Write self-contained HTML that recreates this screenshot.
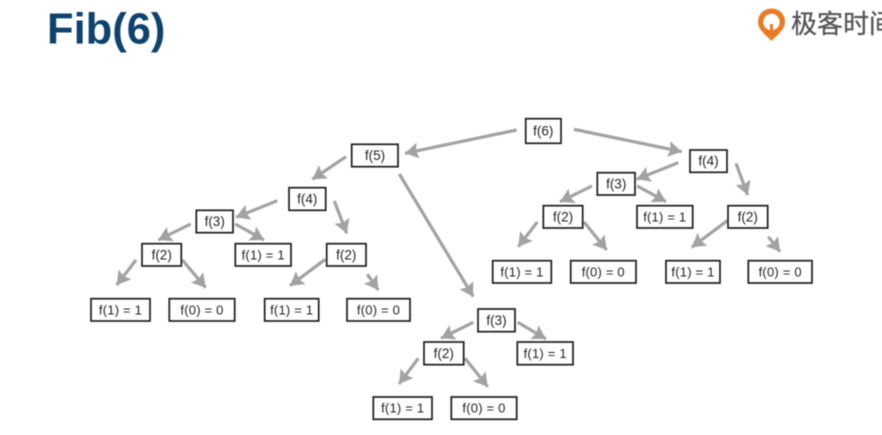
<!DOCTYPE html>
<html lang="zh">
<head>
<meta charset="utf-8">
<title>Fib(6)</title>
<style>
html,body{margin:0;padding:0;background:#fff;width:882px;height:435px;overflow:hidden}
svg{display:block}
.t{font-family:"Liberation Sans",sans-serif;font-size:13.5px;fill:#222;text-anchor:middle}
.q{font-family:"Liberation Sans",sans-serif;font-size:13px;fill:#222;text-anchor:middle;letter-spacing:.2px}
.b{fill:#fff;stroke:#1c1c1c;stroke-width:1.7}
.a{stroke:#a2a2a2;stroke-width:3.2;fill:none;marker-end:url(#h)}
.blur{filter:blur(0.45px)}
</style>
</head>
<body>
<svg width="882" height="435" viewBox="0 0 882 435" xmlns="http://www.w3.org/2000/svg">
<defs>
<marker id="h" markerUnits="strokeWidth" markerWidth="4.2" markerHeight="5" refX="4.2" refY="2.5" orient="auto">
<path d="M0,0 L4.2,2.5 L0,5 L0.7,2.5 Z" fill="#a2a2a2"/>
</marker>
</defs>
<g class="blur">
<text x="47" y="43.5" font-family="Liberation Sans, sans-serif" font-weight="700" font-size="43.5" fill="#0e426f">Fib(6)</text>

<path d="M771.5,41 C766,35 758,30 758,22 C758,14 764,8.5 771.5,8.5 C779,8.5 785,14 785,22 C785,30 777,35 771.5,41 Z" fill="#ea7b25"/>
<circle cx="771.5" cy="22" r="8.2" fill="#fff"/>
<path d="M770,24 L773,24 L773,31 L777,31 L771.5,37 L766,31 L770,31 Z" fill="#ea7b25"/>
<text x="791" y="33" font-family="Liberation Sans, Noto Sans CJK SC, sans-serif" font-size="26" fill="#555" stroke="#555" stroke-width=".3">极客时间</text>

<line class="a" x1="516.7" y1="130" x2="405" y2="153.3"/>
<line class="a" x1="574" y1="129.3" x2="681.7" y2="151.7"/>
<line class="a" x1="399.3" y1="174" x2="473.3" y2="296.7"/>
<line class="a" x1="678.3" y1="162.7" x2="636.7" y2="179.3"/>
<line class="a" x1="736" y1="163.3" x2="747.7" y2="195"/>
<line class="a" x1="592" y1="186" x2="560" y2="201.7"/>
<line class="a" x1="637.3" y1="186" x2="666" y2="201.7"/>
<line class="a" x1="537.3" y1="222" x2="518.3" y2="246.7"/>
<line class="a" x1="584" y1="222" x2="606.7" y2="250"/>
<line class="a" x1="727.3" y1="220.7" x2="691.7" y2="247.3"/>
<line class="a" x1="768.3" y1="236.7" x2="780" y2="251.7"/>
<line class="a" x1="346" y1="156.7" x2="312.3" y2="179.3"/>
<line class="a" x1="277.3" y1="200.7" x2="236" y2="217.3"/>
<line class="a" x1="334.3" y1="201" x2="346.7" y2="233.3"/>
<line class="a" x1="190.7" y1="224" x2="158.3" y2="240"/>
<line class="a" x1="235.3" y1="224" x2="264" y2="240"/>
<line class="a" x1="136" y1="260" x2="116.7" y2="285"/>
<line class="a" x1="182.3" y1="260" x2="205.7" y2="287.7"/>
<line class="a" x1="325.3" y1="259.3" x2="290" y2="285.7"/>
<line class="a" x1="367.3" y1="274.3" x2="378.3" y2="290"/>
<line class="a" x1="473.3" y1="322.3" x2="441" y2="338.3"/>
<line class="a" x1="517.7" y1="322.3" x2="546" y2="339"/>
<line class="a" x1="418.3" y1="358.3" x2="399" y2="384"/>
<line class="a" x1="465" y1="358.3" x2="487.7" y2="386.7"/>

<rect class="b" x="525.7" y="118.7" width="35.3" height="24.6"/><text class="t" x="543.3" y="135.5">f(6)</text>
<rect class="b" x="351.7" y="144.3" width="46.3" height="22.4"/><text class="t" x="375" y="160">f(5)</text>
<rect class="b" x="690" y="150" width="37" height="22.3"/><text class="t" x="708.5" y="165.7">f(4)</text>
<rect class="b" x="289" y="187.7" width="36.7" height="22.6"/><text class="t" x="307.3" y="203.5">f(4)</text>
<rect class="b" x="597.3" y="172.7" width="37.7" height="22.3"/><text class="t" x="616.2" y="188.3">f(3)</text>
<rect class="b" x="196.3" y="210.3" width="36.7" height="22.4"/><text class="t" x="214.7" y="226">f(3)</text>
<rect class="b" x="478" y="309" width="37" height="22.7"/><text class="t" x="496.5" y="324.8">f(3)</text>

<rect class="b" x="142" y="243.7" width="39.3" height="22.3"/><text class="t" x="161.7" y="259.3">f(2)</text>
<rect class="b" x="326.7" y="243.7" width="39.3" height="22.3"/><text class="t" x="346.3" y="259.3">f(2)</text>
<rect class="b" x="543.3" y="205.7" width="39.4" height="22.3"/><text class="t" x="563" y="221.3">f(2)</text>
<rect class="b" x="728" y="205.7" width="39.7" height="22.3"/><text class="t" x="747.8" y="221.3">f(2)</text>
<rect class="b" x="424" y="342" width="39.7" height="22.7"/><text class="t" x="443.8" y="357.8">f(2)</text>

<rect class="b" x="235.3" y="243.7" width="55.7" height="22.3"/><text class="q" x="263.2" y="259.3">f(1) = 1</text>
<rect class="b" x="637" y="205.7" width="55.7" height="22.3"/><text class="q" x="664.8" y="221.3">f(1) = 1</text>
<rect class="b" x="517.3" y="342" width="55.7" height="22.7"/><text class="q" x="545.2" y="357.8">f(1) = 1</text>

<rect class="b" x="91" y="298.7" width="59" height="22.3"/><text class="q" x="120.5" y="314.3">f(1) = 1</text>
<rect class="b" x="169.3" y="298.7" width="65.4" height="22.3"/><text class="q" x="202" y="314.3">f(0) = 0</text>
<rect class="b" x="264.7" y="298.7" width="54" height="22.3"/><text class="q" x="291.7" y="314.3">f(1) = 1</text>
<rect class="b" x="347" y="298.7" width="63" height="22.3"/><text class="q" x="378.5" y="314.3">f(0) = 0</text>

<rect class="b" x="492.7" y="260.7" width="58.6" height="22.3"/><text class="q" x="522" y="276.3">f(1) = 1</text>
<rect class="b" x="570.7" y="260.7" width="65.3" height="22.3"/><text class="q" x="603.3" y="276.3">f(0) = 0</text>
<rect class="b" x="666" y="260.7" width="54" height="22.3"/><text class="q" x="693" y="276.3">f(1) = 1</text>
<rect class="b" x="748.3" y="260.7" width="63.7" height="22.3"/><text class="q" x="780.2" y="276.3">f(0) = 0</text>

<rect class="b" x="373.3" y="397" width="58.7" height="22.3"/><text class="q" x="402.7" y="412.6">f(1) = 1</text>
<rect class="b" x="451.3" y="397" width="65.4" height="22.3"/><text class="q" x="484" y="412.6">f(0) = 0</text>
</g>
</svg>
</body>
</html>
